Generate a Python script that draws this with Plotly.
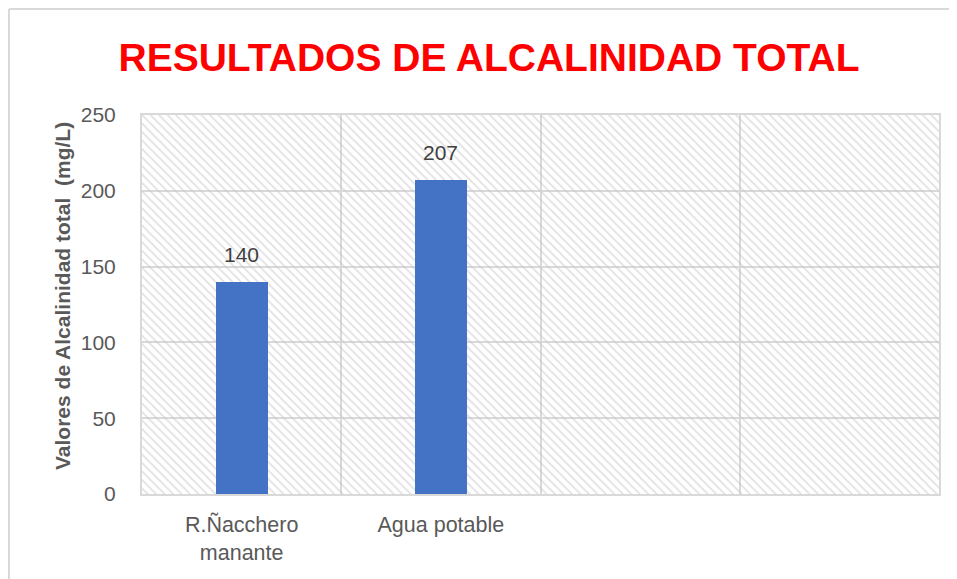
import plotly.graph_objects as go

categories = ["R.Ñacchero<br>manante", "Agua potable", "", ""]
values = [140, 207, None, None]
labels = ["140", "207", "", ""]
y_ticks = [0, 50, 100, 150, 200, 250]

OFF = 8  # page body offset of the figure in the browser
W, H = 957, 579
L, T = 142 - OFF, 115 - OFF
pw, ph = 939 - 142, 494 - 115
R, B = W - L - pw, H - T - ph

def px(xp):
    return (xp - OFF - L) / pw

def py(yp):
    return 1 - (yp - OFF - T) / ph

xpos = list(range(len(categories)))
ymax = y_ticks[-1]

fig = go.Figure()

# hatched plot-area background
fig.add_trace(go.Bar(
    x=[(xpos[0] + xpos[-1]) / 2], y=[ymax], width=[len(categories)],
    marker=dict(color="rgba(0,0,0,0)", line=dict(width=0),
                pattern=dict(shape="\\", fgcolor="#c4c4c4", bgcolor="rgba(0,0,0,0)",
                             size=6, solidity=0.3, fillmode="overlay")),
    hoverinfo="skip", showlegend=False))

fig.add_trace(go.Bar(
    x=xpos, y=values, width=0.26,
    marker=dict(color="#4472C4", line=dict(width=0)),
    hoverinfo="skip", showlegend=False))

annotations = [dict(text="<b>Valores de Alcalinidad total  (mg/L)</b>",
                    xref="paper", yref="paper", x=px(62), y=py(296),
                    xanchor="center", yanchor="middle",
                    textangle=-90, showarrow=False,
                    font=dict(family="Liberation Sans", size=21, color="#595959"))]
for xv, v, lab in zip(xpos, values, labels):
    if v is not None:
        annotations.append(dict(x=xv, y=v, text=lab, xref="x", yref="y",
                                showarrow=False, yanchor="bottom", yshift=14,
                                font=dict(family="Liberation Sans", size=21, color="#404040")))

fig.update_layout(
    width=W, height=H,
    margin=dict(l=L, r=R, t=T, b=B),
    paper_bgcolor="white", plot_bgcolor="white",
    barmode="overlay", bargap=0,
    font=dict(family="Liberation Sans", color="#595959"),
    title=dict(text="<b>RESULTADOS DE ALCALINIDAD TOTAL</b>",
               x=(489 - OFF) / W, xanchor="center", y=1 - (57.5 - OFF) / H, yanchor="middle",
               font=dict(family="Liberation Sans", size=39, color="#FF0000")),
    xaxis=dict(range=[-0.5, len(categories) - 0.5], tickvals=xpos, ticktext=categories,
               showgrid=False, zeroline=False, showline=True, linecolor="#d9d9d9",
               linewidth=2, mirror=True, ticks="", ticklabelstandoff=10,
               tickfont=dict(size=21.5, color="#595959"),
               minor=dict(tickvals=[i - 0.5 for i in xpos] + [xpos[-1] + 0.5],
                          showgrid=True, gridcolor="#d9d9d9", gridwidth=2, ticks="")),
    yaxis=dict(range=[0, ymax], tickvals=y_ticks, showgrid=True, gridcolor="#d9d9d9",
               gridwidth=2, zeroline=False, showline=True, linecolor="#d9d9d9",
               linewidth=2, mirror=True, ticks="", ticklabelstandoff=20,
               tickfont=dict(size=21, color="#595959")),
    annotations=annotations,
    shapes=[
        dict(type="line", xref="paper", yref="paper", x0=px(OFF + 1), x1=px(OFF + 1),
             y0=py(9), y1=py(620), line=dict(color="#d9d9d9", width=2)),
        dict(type="line", xref="paper", yref="paper", x0=px(OFF + 1), x1=px(1000),
             y0=py(9), y1=py(9), line=dict(color="#d9d9d9", width=2)),
    ],
)

fig.write_html("out.html")
